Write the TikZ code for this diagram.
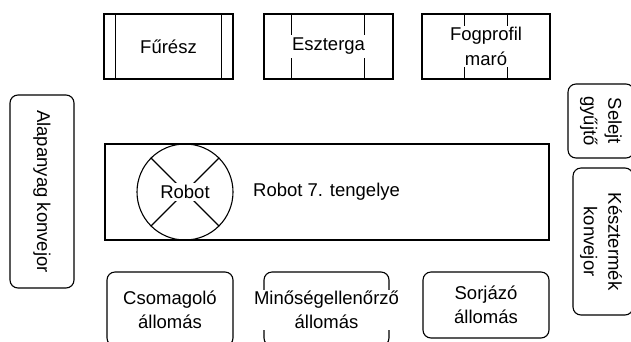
\documentclass[tikz,border=0pt]{standalone}
\usepackage{fontspec}
\setmainfont{Liberation Sans}
\begin{document}
\begin{tikzpicture}[x=1pt,y=-1pt,
  box/.style={draw, line width=1.1pt, inner sep=0pt},
  rbox/.style={box, rounded corners=8pt},
  lbl/.style={font=\fontsize{18.5}{24.5}\selectfont, align=center, inner sep=1pt},
  wlbl/.style={lbl, fill=white},
  ln/.style={line width=1.1pt}]
\useasboundingbox (0,0) rectangle (631,341);
\clip (0,0) rectangle (631,341);
% top machines
\node[box, minimum width=129pt, minimum height=65pt] (furesz) at (168.5,46.5) {};
\draw[ln] ([xshift=12pt]furesz.north west) -- ([xshift=12pt]furesz.south west);
\draw[ln] ([xshift=-12pt]furesz.north east) -- ([xshift=-12pt]furesz.south east);
\node[wlbl] (furesztxt) at (furesz.center) {Fűrész};

\node[box, minimum width=129pt, minimum height=65pt] (eszterga) at (328.5,46.5) {};
\draw[ln] ([xshift=28pt]eszterga.north west) -- ([xshift=28pt]eszterga.south west);
\draw[ln] ([xshift=-29pt]eszterga.north east) -- ([xshift=-29pt]eszterga.south east);
\node[wlbl, inner ysep=3pt] (esztergatxt) at (eszterga.center) {Eszterga};

\node[box, minimum width=128pt, minimum height=65pt] (fogprofil) at (486,46.5) {};
\draw[ln] ([xshift=43pt]fogprofil.north west) -- ([xshift=43pt]fogprofil.south west);
\draw[ln] ([xshift=-43pt]fogprofil.north east) -- ([xshift=-43pt]fogprofil.south east);
\node[wlbl] (fogprofiltxt) at (fogprofil.center) {Fogprofil\\maró};

% side conveyors
\node[rbox, minimum width=64pt, minimum height=193pt] (alap) at (42,191.5) {};
\node[lbl, rotate=-90] (alaptxt) at (alap.center) {Alapanyag konvejor};

\node[rbox, minimum width=66pt, minimum height=74pt] (selejt) at (601,121) {};
\node[lbl, rotate=-90] (selejttxt) at (selejt.center) {Selejt\\gyűjtő};

\node[rbox, minimum width=60pt, minimum height=147pt] (kesz) at (603,241.5) {};
\node[lbl, rotate=-90] (kesztxt) at (601,241.5) {Késztermék\\konvejor};

% robot track
\node[box, minimum width=444pt, minimum height=96pt] (track) at (327,192) {};
\node[draw, circle, line width=1.1pt, minimum size=96pt, inner sep=0pt] (robot) at (185,192) {};
\draw[ln] (robot.north west) -- (robot.south east);
\draw[ln] (robot.north east) -- (robot.south west);
\node[wlbl, inner ysep=2pt] (robottxt) at (robot.center) {Robot};
\node[lbl, anchor=west] (tengely) at (252,192) {Robot 7. tengelye};

% bottom stations
\node[rbox, minimum width=126pt, minimum height=74pt] (csomag) at (170,309) {};
\node[lbl] (csomagtxt) at (170,310) {Csomagoló\\állomás};

\node[rbox, minimum width=125pt, minimum height=74pt] (minoseg) at (326.5,309) {};
\node[wlbl] (minosegtxt) at (326.5,310) {Minőségellenőrző\\állomás};

\node[rbox, minimum width=126pt, minimum height=66pt] (sorjazo) at (486,305) {};
\node[lbl] (sorjazotxt) at (sorjazo.center) {Sorjázó\\állomás};
\end{tikzpicture}
\end{document}
